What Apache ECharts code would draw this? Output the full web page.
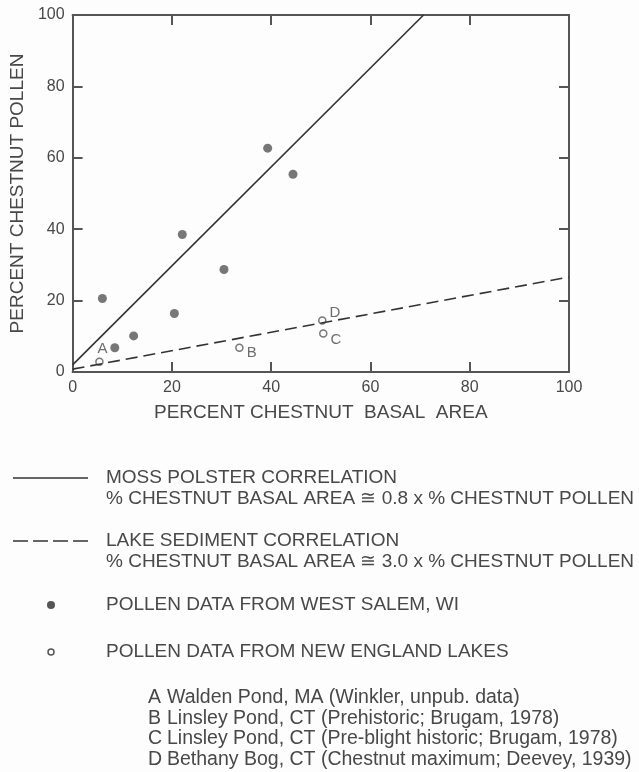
<!DOCTYPE html>
<html>
<head>
<meta charset="utf-8">
<script src="https://cdn.jsdelivr.net/npm/echarts@6/dist/echarts.min.js"></script>
<style>
html,body{margin:0;padding:0;background:#fdfdfd;}
#chart{width:639px;height:772px;}
</style>
</head>
<body>
<div id="chart"></div>
<script>
// ---- data ----
const westSalemX = [6.0, 8.5, 12.3, 20.5, 22.1, 30.5, 39.3, 44.4];
const westSalemY = [20.6, 6.8, 10.1, 16.4, 38.5, 28.7, 62.7, 55.4];
const lakeNames = ['A', 'B', 'C', 'D'];
const lakeX = [5.4, 33.6, 50.5, 50.3];
const lakeY = [2.9, 6.8, 10.8, 14.4];
const mossLineX = [0, 70.7];
const mossLineY = [2.0, 100];
const lakeLineX = [0, 100];
const lakeLineY = [0.8, 26.6];
const axisTicks = [0, 20, 40, 60, 80, 100];
const xTitle = 'PERCENT CHESTNUT  BASAL  AREA';
const yTitle = 'PERCENT CHESTNUT POLLEN';
const legendMoss = ['MOSS POLSTER CORRELATION', '% CHESTNUT BASAL AREA \u2245 0.8 x % CHESTNUT POLLEN'];
const legendLake = ['LAKE SEDIMENT CORRELATION', '% CHESTNUT BASAL AREA \u2245 3.0 x % CHESTNUT POLLEN'];
const legendWest = 'POLLEN DATA FROM WEST SALEM, WI';
const legendNE = 'POLLEN DATA FROM NEW ENGLAND LAKES';
const siteNotes = [
  'Walden Pond, MA (Winkler, unpub. data)',
  'Linsley Pond, CT (Prehistoric; Brugam, 1978)',
  'Linsley Pond, CT (Pre-blight historic; Brugam, 1978)',
  'Bethany Bog, CT (Chestnut maximum; Deevey, 1939)'
];

// ---- styling ----
const FONT = '"Liberation Sans", Arial, Helvetica, sans-serif';
const INK = '#484848';
const AX = '#555';
const labelPlacement = {
  A: {position: 'top', offset: [3, 2]},
  B: {position: 'right', offset: [0, 5]},
  C: {position: 'right', offset: [0, 6]},
  D: {position: 'right', offset: [0, -8]}
};

const chart = echarts.init(document.getElementById('chart'), null, {renderer: 'canvas'});

function axisBase(pos, showLabel) {
  return {
    type: 'value', min: axisTicks[0], max: axisTicks[axisTicks.length - 1],
    interval: axisTicks[1] - axisTicks[0], position: pos,
    axisLine: {show: true, onZero: false, lineStyle: {color: AX, width: 2}},
    axisTick: {show: true, inside: true, length: 10, lineStyle: {color: AX, width: 2}},
    axisLabel: {show: showLabel, color: INK, fontSize: 16, fontFamily: FONT, margin: 8},
    splitLine: {show: false}
  };
}

const xBottom = Object.assign(axisBase('bottom', true), {
  name: xTitle, nameLocation: 'middle', nameGap: 31,
  nameTextStyle: {color: INK, fontSize: 19, fontFamily: FONT}
});
const yLeft = Object.assign(axisBase('left', true), {
  name: yTitle, nameLocation: 'middle', nameGap: 38,
  nameTextStyle: {color: INK, fontSize: 19, fontFamily: FONT}
});

const legendTextStyle = {fill: INK, font: '19px ' + FONT, verticalAlign: 'middle', textAlign: 'left'};
const noteStyle = Object.assign({}, legendTextStyle, {font: '19.5px ' + FONT});
const graphics = [
  {type: 'line', shape: {x1: 13, y1: 478, x2: 88, y2: 478}, style: {stroke: '#333', lineWidth: 1.5}},
  {type: 'text', x: 106, y: 478, style: Object.assign({text: legendMoss[0]}, legendTextStyle)},
  {type: 'text', x: 106, y: 499, style: Object.assign({text: legendMoss[1]}, legendTextStyle)},
  {type: 'line', shape: {x1: 13, y1: 541, x2: 88, y2: 541}, style: {stroke: '#333', lineWidth: 1.5, lineDash: [15, 5]}},
  {type: 'text', x: 106, y: 541, style: Object.assign({text: legendLake[0]}, legendTextStyle)},
  {type: 'text', x: 106, y: 562, style: Object.assign({text: legendLake[1]}, legendTextStyle)},
  {type: 'circle', shape: {cx: 51, cy: 605, r: 4}, style: {fill: '#555'}},
  {type: 'text', x: 106, y: 605, style: Object.assign({text: legendWest}, legendTextStyle)},
  {type: 'circle', shape: {cx: 51, cy: 652, r: 3}, style: {fill: '#fdfdfd', stroke: '#555', lineWidth: 1.5}},
  {type: 'text', x: 106, y: 652, style: Object.assign({text: legendNE}, legendTextStyle)}
];
const noteY = [698, 719, 739, 760];
lakeNames.forEach((n, i) => {
  graphics.push({type: 'text', x: 148, y: noteY[i], style: Object.assign({}, noteStyle, {text: n})});
  graphics.push({type: 'text', x: 167, y: noteY[i], style: Object.assign({}, noteStyle, {text: siteNotes[i]})});
});

chart.setOption({
  backgroundColor: '#fdfdfd',
  animation: false,
  grid: {left: 71, right: 70, top: 15, bottom: 400, containLabel: false},
  xAxis: [xBottom, axisBase('top', false)],
  yAxis: [yLeft, axisBase('right', false)],
  series: [
    {
      type: 'line', xAxisIndex: 0, yAxisIndex: 0, showSymbol: false, silent: true,
      data: mossLineX.map((x, i) => [x, mossLineY[i]]),
      lineStyle: {color: '#333', width: 1.6}
    },
    {
      type: 'line', xAxisIndex: 0, yAxisIndex: 0, showSymbol: false, silent: true,
      data: lakeLineX.map((x, i) => [x, lakeLineY[i]]),
      lineStyle: {color: '#333', width: 1.6, type: [12, 6]}
    },
    {
      type: 'scatter', xAxisIndex: 0, yAxisIndex: 0, symbol: 'circle', symbolSize: 9,
      data: westSalemX.map((x, i) => [x, westSalemY[i]]),
      itemStyle: {color: '#555'}
    },
    {
      type: 'scatter', xAxisIndex: 0, yAxisIndex: 0, symbol: 'circle', symbolSize: 7,
      data: lakeX.map((x, i) => ({
        value: [x, lakeY[i]], name: lakeNames[i],
        label: labelPlacement[lakeNames[i]]
      })),
      itemStyle: {color: '#fdfdfd', borderColor: '#555', borderWidth: 1.5},
      label: {show: true, formatter: p => p.name, color: INK, fontSize: 15, fontFamily: FONT, distance: 3}
    }
  ],
  graphic: graphics
});
</script>
</body>
</html>
